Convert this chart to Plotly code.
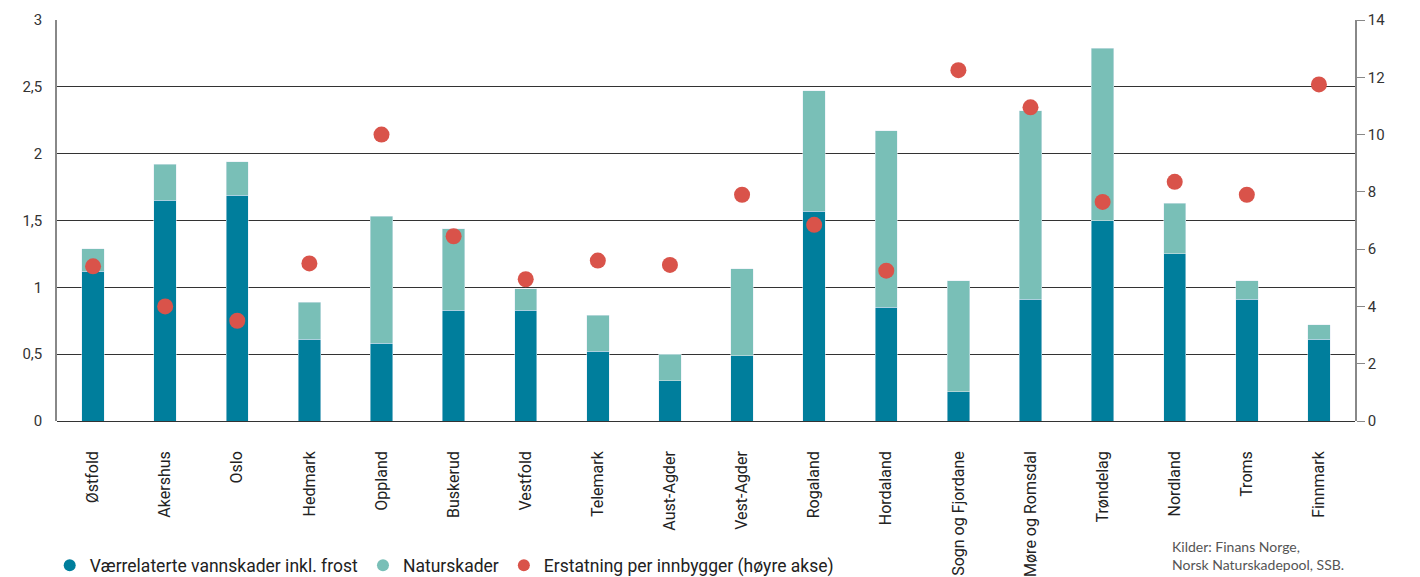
import plotly.graph_objects as go

# Fylker
fylker = ["Østfold", "Akershus", "Oslo", "Hedmark", "Oppland", "Buskerud", "Vestfold",
          "Telemark", "Aust-Agder", "Vest-Agder", "Rogaland", "Hordaland",
          "Sogn og Fjordane", "Møre og Romsdal", "Trøndelag", "Nordland", "Troms", "Finnmark"]

# Værrelaterte vannskader inkl. frost (venstre akse)
vannskader = [1.12, 1.65, 1.69, 0.61, 0.58, 0.83, 0.83, 0.52, 0.30, 0.49,
              1.57, 0.85, 0.22, 0.91, 1.50, 1.25, 0.91, 0.61]

# Naturskader (venstre akse, stablet)
naturskader = [0.17, 0.27, 0.25, 0.28, 0.95, 0.61, 0.16, 0.27, 0.20, 0.65,
               0.90, 1.32, 0.83, 1.41, 1.29, 0.38, 0.14, 0.11]

# Erstatning per innbygger (høyre akse)
per_innbygger = [5.4, 4.0, 3.5, 5.5, 10.0, 6.45, 4.95, 5.6, 5.45, 7.9,
                 6.85, 5.25, 12.25, 10.95, 7.65, 8.35, 7.9, 11.75]

left_ticks = [0, 0.5, 1, 1.5, 2, 2.5, 3]
right_ticks = [0, 2, 4, 6, 8, 10, 12, 14]

C_DARK = "#007e9c"
C_LIGHT = "#79bfb7"
C_RED = "#d9534a"

fig = go.Figure()

fig.add_trace(go.Bar(x=fylker, y=vannskader, marker_color=C_DARK, showlegend=False,
                     name="Værrelaterte vannskader inkl. frost"))
fig.add_trace(go.Bar(x=fylker, y=naturskader, marker_color=C_LIGHT, showlegend=False,
                     name="Naturskader"))
fig.add_trace(go.Scatter(x=fylker, y=per_innbygger, mode="markers", yaxis="y2",
                         marker=dict(color=C_RED, size=16, symbol="circle"),
                         showlegend=False, name="Erstatning per innbygger (høyre akse)"))

# Legend entries drawn as round markers
for name, col in [("Værrelaterte vannskader inkl. frost", C_DARK),
                  ("Naturskader", C_LIGHT),
                  ("Erstatning per innbygger (høyre akse)", C_RED)]:
    fig.add_trace(go.Scatter(x=[None], y=[None], mode="markers", name=name,
                             marker=dict(color=col, size=17, symbol="circle")))

fig.update_layout(
    width=1420, height=577,
    margin=dict(l=57, r=65, t=20, b=156, autoexpand=False),
    plot_bgcolor="white", paper_bgcolor="white",
    barmode="stack", bargap=0.69,
    separators=", ",
    font=dict(family="Roboto", size=15, color="#222"),
    xaxis=dict(type="category", range=[-0.5, len(fylker) - 0.5], automargin=False,
               tickangle=-90, showgrid=False, ticks="", showline=False,
               tickfont=dict(size=16, color="#222"), ticklabelstandoff=26),
    yaxis=dict(range=[0, 3], tickvals=left_ticks, showgrid=True, gridcolor="#333",
               gridwidth=1, showline=True, linecolor="#888", linewidth=1.5,
               zeroline=True, zerolinecolor="#333", zerolinewidth=1, automargin=False,
               ticks="", tickfont=dict(size=15, color="#333"), ticklabelstandoff=10),
    yaxis2=dict(range=[0, 14], tickvals=right_ticks, overlaying="y", side="right",
                showgrid=False, showline=True, linecolor="#888", linewidth=1.5,
                zeroline=False, ticks="outside", ticklen=8, tickcolor="#888",
                automargin=False, tickfont=dict(size=15, color="#333")),
    legend=dict(orientation="h", xref="container", yref="paper",
                x=0.035, y=-0.405, xanchor="left", yanchor="bottom", traceorder="normal",
                font=dict(size=17.5, color="#222"), itemsizing="constant"),
    annotations=[dict(text="Kilder: Finans Norge,<br>Norsk Naturskadepool, SSB.",
                      xref="paper", yref="paper", x=(1170 - 57) / 1298, y=-0.385,
                      xanchor="left", yanchor="bottom", showarrow=False, align="left",
                      font=dict(family="Lato", size=14, color="#555"))],
)

fig.write_html("out.html")
